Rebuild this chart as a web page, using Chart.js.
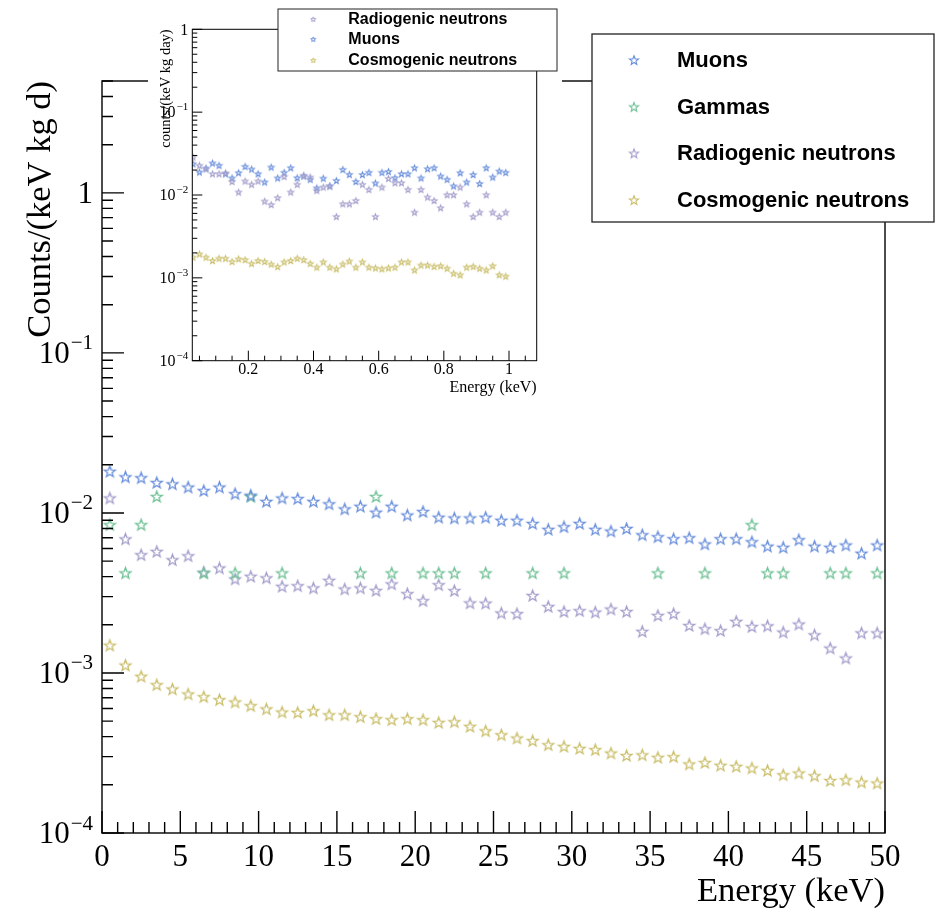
<!DOCTYPE html>
<html>
<head>
<meta charset="utf-8">
<script src="https://cdn.jsdelivr.net/npm/chart.js@4"></script>
<style>
  body { margin: 0; background: #fff; }
  #wrap { position: relative; width: 945px; height: 912px; }
  #main { position: absolute; left: 0; top: 0; }
  #inset { position: absolute; left: 148px; top: 0; background: #fff; }
</style>
</head>
<body>
<div id="wrap">
  <canvas id="main" width="945" height="912"></canvas>
  <canvas id="inset" width="414" height="400"></canvas>
</div>
<script>
// main plot: 1 keV bins, 0-50 keV
const binCenters = [0.5,1.5,2.5,3.5,4.5,5.5,6.5,7.5,8.5,9.5,10.5,11.5,12.5,13.5,14.5,15.5,16.5,17.5,18.5,19.5,
  20.5,21.5,22.5,23.5,24.5,25.5,26.5,27.5,28.5,29.5,30.5,31.5,32.5,33.5,34.5,35.5,36.5,37.5,38.5,39.5,
  40.5,41.5,42.5,43.5,44.5,45.5,46.5,47.5,48.5,49.5];

const muons = [0.0182,0.0168,0.0166,0.0155,0.0152,0.0145,0.0138,0.0145,0.0132,0.0129,
  0.0118,0.0124,0.0123,0.0118,0.0114,0.0106,0.0110,0.0101,0.0110,0.0097,
  0.0102,0.0094,0.0093,0.0093,0.0094,0.0090,0.0090,0.0086,0.0079,0.0082,
  0.0086,0.0079,0.0077,0.0080,0.0073,0.0071,0.0069,0.0070,0.0064,0.0069,
  0.0069,0.0066,0.0062,0.0061,0.0068,0.0062,0.0061,0.0063,0.0056,0.0063];

const gammas = [0.00845,0.00422,0.00845,0.01267,null,null,0.00422,null,0.00422,0.01267,
  null,0.00422,null,null,null,null,0.00422,0.01267,0.00422,null,
  0.00422,0.00422,0.00422,null,0.00422,null,null,0.00422,null,0.00422,
  null,null,null,null,null,0.00422,null,null,0.00422,null,
  null,0.00845,0.00422,0.00422,null,null,0.00422,0.00422,null,0.00422];

const radiogenic = [0.0124,0.00688,0.00548,0.00575,0.0051,0.0054,0.00426,0.00453,0.00387,0.00402,
  0.00393,0.00348,0.00351,0.0034,0.00379,0.00335,0.0034,0.00328,0.0036,0.00313,
  0.00283,0.00356,0.00327,0.00274,0.00273,0.00237,0.00235,0.00305,0.0026,0.00242,
  0.00245,0.0024,0.00251,0.00242,0.00182,0.00229,0.00235,0.00198,0.00189,0.00184,
  0.0021,0.00195,0.00197,0.0018,0.00202,0.00173,0.00143,0.00124,0.00178,0.00178];

const cosmogenic = [0.00149,0.00112,0.000953,0.000845,0.000794,0.000739,0.000711,0.000681,0.000659,0.000625,
  0.000596,0.00057,0.000567,0.000581,0.000548,0.000548,0.000533,0.000518,0.000511,0.000518,
  0.000511,0.000491,0.000496,0.000464,0.000435,0.000411,0.000392,0.000378,0.000356,0.000348,
  0.000338,0.000332,0.000316,0.000305,0.000308,0.000297,0.0003,0.00027,0.000276,0.000265,
  0.000261,0.000255,0.000246,0.000231,0.000237,0.000228,0.000213,0.000215,0.000208,0.000205];

// inset: 0.02 keV bins below 1 keV
const lowE = [0.03,0.05,0.07,0.09,0.11,0.13,0.15,0.17,0.19,0.21,0.23,0.25,0.27,0.29,0.31,0.33,0.35,0.37,0.39,
  0.41,0.43,0.45,0.47,0.49,0.51,0.53,0.55,0.57,0.59,0.61,0.63,0.65,0.67,0.69,0.71,0.73,0.75,0.77,0.79,
  0.81,0.83,0.85,0.87,0.89,0.91,0.93,0.95,0.97,0.99];

const lowMuons = [0.0239,0.019,0.0212,0.0244,0.0229,0.0181,0.0161,0.0186,0.0222,0.0206,
  0.0181,0.0144,0.0218,0.0161,0.0188,0.0214,0.0162,0.017,0.0155,0.0122,
  0.016,0.0129,0.015,0.0204,0.0178,0.0146,0.0177,0.0188,0.014,0.0188,
  0.0193,0.0162,0.0181,0.0181,0.0214,0.0161,0.0208,0.0214,0.017,0.0155,
  0.0129,0.0186,0.0144,0.0177,0.0138,0.0214,0.0165,0.0195,0.0188];

const lowRadiogenic = [0.0288,0.0229,0.0207,0.0181,0.0181,0.0186,0.0146,0.0109,0.0148,0.0135,
  0.0148,0.00846,0.0077,0.0093,0.0168,0.0109,0.0135,0.0173,0.0165,0.0114,
  0.0125,0.0129,0.00552,0.00785,0.00785,0.0086,0.0135,0.0117,0.00552,0.0125,
  0.0159,0.0141,0.0141,0.0117,0.00622,0.0117,0.00946,0.0086,0.00703,0.0101,
  0.0101,0.0125,0.00785,0.00552,0.00622,0.0101,0.00622,0.00552,0.00622];

const lowCosmogenic = [0.00178,0.00195,0.00178,0.00162,0.00173,0.00173,0.00158,0.0017,0.00166,0.0015,
  0.00162,0.00158,0.00147,0.00137,0.00156,0.00162,0.00173,0.00166,0.0015,0.00135,
  0.00156,0.00135,0.00129,0.00147,0.0016,0.00135,0.00156,0.00135,0.00132,0.00129,
  0.00132,0.00135,0.00156,0.00156,0.00125,0.00143,0.00143,0.00138,0.0014,0.00131,
  0.00114,0.00109,0.00135,0.00138,0.00131,0.00125,0.0014,0.00109,0.00105];

const colMuons = '#6a8fdc';
const colGammas = '#6fc195';
const colRadio = '#a39fcc';
const colCosmo = '#cbbf6c';

function starImage(color, R, lw) {
  const s = Math.ceil(2 * R + 2 * lw + 2);
  const c = document.createElement('canvas');
  c.width = s; c.height = s;
  const g = c.getContext('2d');
  g.strokeStyle = color;
  g.lineWidth = lw;
  g.lineJoin = 'miter';
  g.beginPath();
  for (let i = 0; i < 10; i++) {
    const ang = -Math.PI / 2 + i * Math.PI / 5;
    const r = i % 2 ? R * 0.42 : R;
    const px = s / 2 + r * Math.cos(ang), py = s / 2 + 0.5 + r * Math.sin(ang);
    if (i === 0) g.moveTo(px, py); else g.lineTo(px, py);
  }
  g.closePath();
  g.stroke();
  return c;
}

function pts(xs, ys) {
  return xs.map((x, i) => ({ x, y: ys[i] })).filter(p => p.y != null);
}

function powLabel(ctx, d, xr, y, big, small, raise) {
  ctx.textBaseline = 'middle';
  if (d === 0) {
    ctx.font = big; ctx.textAlign = 'right';
    ctx.fillText('1', xr, y);
    return;
  }
  const sup = (d < 0 ? '\u2212' : '') + Math.abs(d);
  ctx.font = small;
  const ws = ctx.measureText(sup).width;
  ctx.font = big;
  const wb = ctx.measureText('10').width;
  ctx.textAlign = 'left';
  ctx.fillText('10', xr - ws - wb - 1, y);
  ctx.font = small;
  ctx.fillText(sup, xr - ws, y - raise);
}

// ROOT-like frame: inward ticks, serif labels, titles at axis ends, boxed legend
function rootFrame(o) {
  return {
    id: 'rootFrame',
    afterDraw(chart) {
      const ctx = chart.ctx, a = chart.chartArea;
      const sx = chart.scales.x, sy = chart.scales.y;
      ctx.save();
      ctx.strokeStyle = '#000';
      ctx.lineWidth = o.lw;
      ctx.strokeRect(a.left, a.top, a.right - a.left, a.bottom - a.top);

      ctx.beginPath();
      const n0 = Math.ceil(sx.min / o.xStep - 1e-6);
      for (let i = n0; i * o.xStep <= sx.max + 1e-9; i++) {
        const px = sx.getPixelForValue(i * o.xStep);
        const len = i % o.xRatio === 0 ? o.major : o.minor;
        ctx.moveTo(px, a.bottom); ctx.lineTo(px, a.bottom - len);
      }
      const d0 = Math.floor(Math.log10(sy.min) + 1e-9), d1 = Math.ceil(Math.log10(sy.max));
      for (let d = d0; d <= d1; d++) {
        for (let m = 1; m <= 9; m++) {
          const v = m * Math.pow(10, d);
          if (v < sy.min * 0.999 || v > sy.max * 1.001) continue;
          const py = sy.getPixelForValue(v);
          ctx.moveTo(a.left, py); ctx.lineTo(a.left + (m === 1 ? o.major : o.minor), py);
        }
      }
      ctx.stroke();

      ctx.fillStyle = '#000';
      // x tick labels
      ctx.font = o.tickFont;
      ctx.textAlign = 'center';
      ctx.textBaseline = 'middle';
      for (let i = n0; i * o.xStep <= sx.max + 1e-9; i++) {
        if (i % o.xRatio !== 0) continue;
        const v = Math.round(i * o.xStep * 100) / 100;
        ctx.fillText(String(v), sx.getPixelForValue(v), a.bottom + o.xLabelDy);
      }
      // y tick labels
      for (let d = d0; d <= d1; d++) {
        const v = Math.pow(10, d);
        if (v < sy.min * 0.999 || v > sy.max * 1.001) continue;
        powLabel(ctx, d, a.left - o.yLabelGap, sy.getPixelForValue(v) + o.yLabelDy, o.tickFont, o.supFont, o.supRaise);
      }
      // titles
      ctx.font = o.titleFont;
      ctx.textBaseline = 'alphabetic';
      ctx.textAlign = 'right';
      ctx.fillText(o.xTitle, a.right, o.xTitleY);
      ctx.save();
      ctx.translate(o.yTitleX, a.top);
      ctx.rotate(-Math.PI / 2);
      ctx.font = o.yTitleFont || o.titleFont;
      ctx.fillText(o.yTitle, 0, 0);
      ctx.restore();

      // legend
      const L = o.legend;
      ctx.fillStyle = '#fff';
      ctx.fillRect(L.x0, L.y0, L.x1 - L.x0, L.y1 - L.y0);
      ctx.strokeStyle = '#222';
      ctx.lineWidth = L.lw;
      ctx.strokeRect(L.x0, L.y0, L.x1 - L.x0, L.y1 - L.y0);
      ctx.fillStyle = '#000';
      ctx.font = L.font;
      ctx.textAlign = 'left';
      ctx.textBaseline = 'middle';
      chart.data.datasets.forEach((ds, i) => {
        const img = L.images[i];
        ctx.drawImage(img, L.markerX - img.width / 2, L.rows[i] - img.height / 2);
        ctx.fillText(ds.label, L.textX, L.rows[i] + 1);
      });
      ctx.restore();
    }
  };
}

// main chart
const mainSeries = [
  { label: 'Muons', data: muons, color: colMuons },
  { label: 'Gammas', data: gammas, color: colGammas },
  { label: 'Radiogenic neutrons', data: radiogenic, color: colRadio },
  { label: 'Cosmogenic neutrons', data: cosmogenic, color: colCosmo }
];

new Chart(document.getElementById('main'), {
  type: 'scatter',
  data: {
    datasets: mainSeries.map(s => ({
      label: s.label,
      data: pts(binCenters, s.data),
      pointStyle: starImage(s.color, 5.8, 1.3),
      pointRadius: 5,
      borderColor: s.color,
      backgroundColor: s.color
    }))
  },
  options: {
    responsive: false,
    animation: false,
    devicePixelRatio: 1,
    layout: { padding: { left: 102, right: 60, top: 81, bottom: 79 } },
    scales: {
      x: { type: 'linear', min: 0, max: 50, display: false },
      y: { type: 'logarithmic', min: 1e-4, max: 5, display: false }
    },
    plugins: { legend: { display: false }, tooltip: { enabled: false } }
  },
  plugins: [rootFrame({
    lw: 1.4, major: 22, minor: 11, xStep: 1, xRatio: 5,
    tickFont: '31px "Liberation Serif"', supFont: '21px "Liberation Serif"', supRaise: 11,
    xLabelDy: 25, yLabelGap: 9, yLabelDy: 2,
    titleFont: '34.5px "Liberation Serif"',
    xTitle: 'Energy (keV)', xTitleY: 901,
    yTitle: 'Counts/(keV kg d)', yTitleX: 50,
    legend: {
      x0: 592, y0: 34, x1: 934, y1: 222, lw: 1.3,
      font: 'bold 22px "Liberation Sans"',
      markerX: 634, textX: 677, rows: [60, 106.7, 153.3, 200],
      images: mainSeries.map(s => starImage(s.color, 4.8, 1.1))
    }
  })]
});

// inset chart
const insetSeries = [
  { label: 'Radiogenic neutrons', data: lowRadiogenic, color: colRadio },
  { label: 'Muons', data: lowMuons, color: colMuons },
  { label: 'Cosmogenic neutrons', data: lowCosmogenic, color: colCosmo }
];

new Chart(document.getElementById('inset'), {
  type: 'scatter',
  data: {
    datasets: insetSeries.map(s => ({
      label: s.label,
      data: pts(lowE, s.data),
      pointStyle: starImage(s.color, 3, 1.1),
      pointRadius: 3,
      borderColor: s.color,
      backgroundColor: s.color
    }))
  },
  options: {
    responsive: false,
    animation: false,
    devicePixelRatio: 1,
    layout: { padding: { left: 44.3, right: 25.3, top: 29.3, bottom: 39.3 } },
    scales: {
      x: { type: 'linear', min: 0.028, max: 1.085, display: false },
      y: { type: 'logarithmic', min: 1e-4, max: 1, display: false }
    },
    plugins: { legend: { display: false }, tooltip: { enabled: false } }
  },
  plugins: [rootFrame({
    lw: 1, major: 10, minor: 5, xStep: 0.05, xRatio: 4,
    tickFont: '16px "Liberation Serif"', supFont: '11px "Liberation Serif"', supRaise: 6,
    xLabelDy: 9, yLabelGap: 4, yLabelDy: 1,
    titleFont: '16px "Liberation Serif"', yTitleFont: '14.5px "Liberation Serif"',
    xTitle: 'Energy (keV)', xTitleY: 392,
    yTitle: 'counts/(keV kg day)', yTitleX: 22,
    legend: {
      x0: 130, y0: 9, x1: 409, y1: 71, lw: 1,
      font: 'bold 16px "Liberation Sans"',
      markerX: 165.3, textX: 200.3, rows: [19, 39, 60],
      images: insetSeries.map(s => starImage(s.color, 2.6, 1))
    }
  })]
});
</script>
</body>
</html>
